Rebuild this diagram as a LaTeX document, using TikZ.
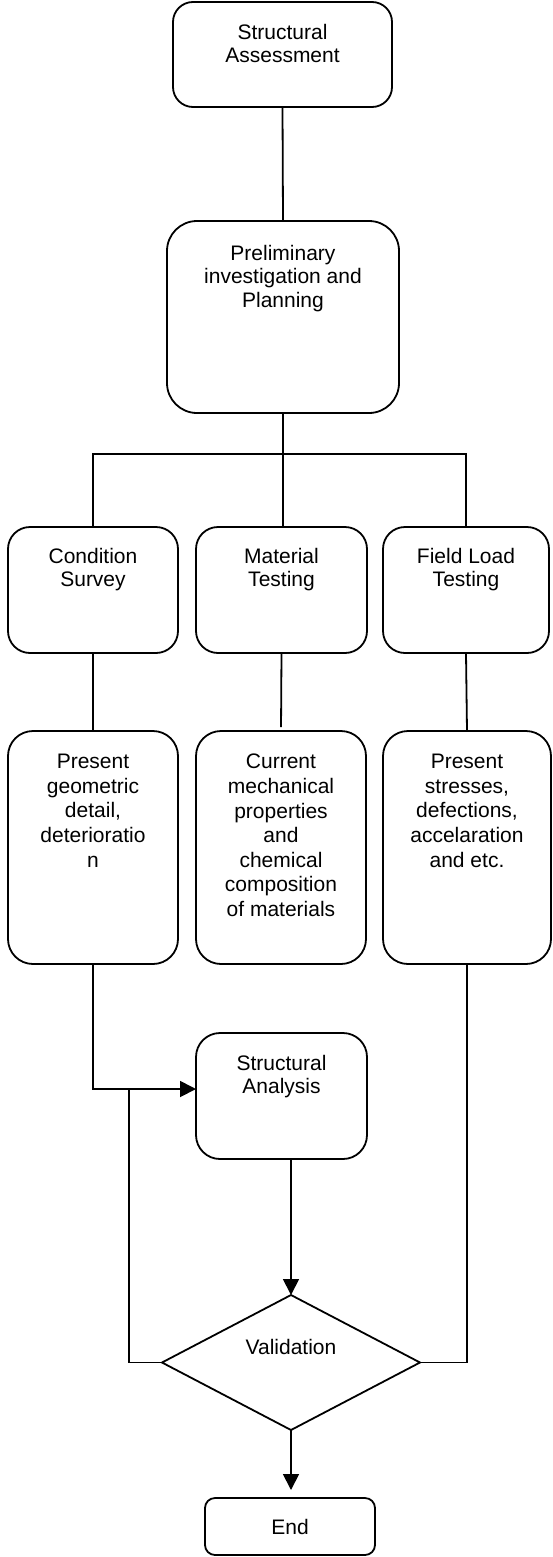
\documentclass[tikz,border=0pt]{standalone}
\usepackage{fontspec}
\setmainfont{Liberation Sans}
\usetikzlibrary{arrows.meta,shapes.geometric}
\begin{document}
\begin{tikzpicture}[x=1pt,y=-1pt,
  box/.style={draw, line width=1.8pt, inner sep=0pt, outer sep=0pt, anchor=north west},
  txt/.style={inner sep=0pt, align=center, anchor=north, font=\fontsize{21}{23.5}\selectfont},
  txtb/.style={txt, font=\fontsize{21}{24.6}\selectfont},
  conn/.style={line width=1.8pt},
  arr/.style={conn, -{Triangle[length=16pt,width=16pt]}}
]
\useasboundingbox (0,0) rectangle (552,1557);

% boxes
\node[box, rounded corners=20pt, minimum width=219pt, minimum height=105pt] (sa) at (173,2) {};
\node[box, rounded corners=30pt, minimum width=232pt, minimum height=192pt] (pre) at (167,221) {};
\node[box, rounded corners=22pt, minimum width=170pt, minimum height=126pt] (cs) at (8,527) {};
\node[box, rounded corners=22pt, minimum width=171pt, minimum height=126pt] (mt) at (196,527) {};
\node[box, rounded corners=22pt, minimum width=166pt, minimum height=126pt] (fl) at (383,527) {};
\node[box, rounded corners=25pt, minimum width=170pt, minimum height=233pt] (ra) at (8,731) {};
\node[box, rounded corners=25pt, minimum width=170pt, minimum height=233pt] (rb) at (196,731) {};
\node[box, rounded corners=25pt, minimum width=168pt, minimum height=233pt] (rc) at (383,731) {};
\node[box, rounded corners=24pt, minimum width=171pt, minimum height=126pt] (an) at (196,1033) {};
\node[draw, line width=1.8pt, diamond, inner sep=0pt, outer sep=0pt, minimum width=258pt, minimum height=135pt] (val) at (291,1362.5) {};
\node[box, rounded corners=10pt, minimum width=170pt, minimum height=57pt] (end) at (205,1498) {};

% texts
\node[txt] (saT) at ([yshift=-22pt]sa.north) {Structural\\Assessment};
\node[txt] (preT) at ([yshift=-24pt]pre.north) {Preliminary\\investigation and\\Planning};
\node[txt] (csT) at ([yshift=-21pt]cs.north) {Condition\\Survey};
\node[txt] (mtT) at ([yshift=-21pt]mt.north) {Material\\Testing};
\node[txt] (flT) at ([yshift=-21pt]fl.north) {Field Load\\Testing};
\node[txtb] (raT) at ([yshift=-23pt]ra.north) {Present\\geometric\\detail,\\deterioratio\\n};
\node[txtb] (rbT) at ([yshift=-23pt]rb.north) {Current\\mechanical\\properties\\and\\chemical\\composition\\of materials};
\node[txtb] (rcT) at ([yshift=-23pt]rc.north) {Present\\stresses,\\defections,\\accelaration\\and etc.};
\node[txt] (anT) at ([yshift=-22pt]an.north) {Structural\\Analysis};
\node[txt, anchor=center] (valT) at (291,1347) {Validation};
\node[txt, anchor=center] (endT) at (end.center) {End};

% connectors
\coordinate (bus) at (283,454);
\coordinate (j1) at (129,1089);
\draw[conn] (sa.south) -- (pre.north);
\draw[conn] (pre.south) -- (bus);
\draw[conn] (cs.north) -- (cs.north |- bus) -- (fl.north |- bus) -- (fl.north);
\draw[conn] (bus) -- (bus |- mt.north);
\draw[conn] (cs.south) -- (ra.north);
\draw[conn, shorten >=4pt] (mt.south) -- (rb.north);
\draw[conn] (fl.south) -- (rc.north);
\draw[arr] (ra.south) |- (an.west |- j1);
\draw[conn] (j1) |- (val.west);
\draw[conn] (rc.south) |- (val.east);
\draw[arr] (val.north |- an.south) -- (val.north);
\draw[arr, shorten >=8pt] (val.south) -- (val.south |- end.north);
\end{tikzpicture}
\end{document}
